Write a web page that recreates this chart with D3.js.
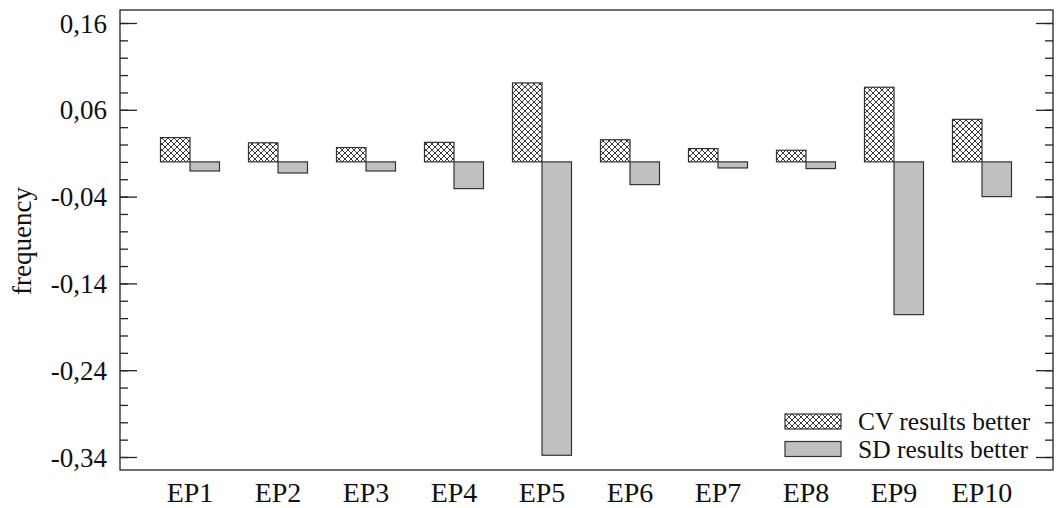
<!DOCTYPE html>
<html>
<head>
<meta charset="utf-8">
<script src="https://cdn.jsdelivr.net/npm/d3@7/dist/d3.min.js"></script>
<style>
  html, body { margin: 0; padding: 0; background: #fff; }
  svg { display: block; }
  svg text { font-family: "Liberation Serif", "Times New Roman", Times, "DejaVu Serif", serif !important; fill: #111; }
</style>
</head>
<body>
<svg id="chart" width="1060" height="508"></svg>
<script>
// Episodes along the x axis
const categories = ["EP1", "EP2", "EP3", "EP4", "EP5", "EP6", "EP7", "EP8", "EP9", "EP10"];
// Frequency where the CV results were better (positive side)
const cvBetter = [0.028, 0.022, 0.0165, 0.0225, 0.091, 0.0255, 0.0153, 0.0134, 0.086, 0.049];
// Frequency where the SD results were better (negative side)
const sdBetter = [-0.0105, -0.0128, -0.0105, -0.0308, -0.338, -0.0262, -0.007, -0.0077, -0.176, -0.040];
// Labelled y ticks
const yTickValues = [0.16, 0.06, -0.04, -0.14, -0.24, -0.34];
const seriesNames = ["CV results better", "SD results better"];

const svg = d3.select("#chart");
const frame = { left: 120, right: 1053, top: 10, bottom: 470 };

const x = d3.scaleBand()
  .domain(categories)
  .range([frame.left + 26, frame.right - 27])
  .padding(0);

const y = d3.scaleLinear()
  .domain([-0.34, 0.16])
  .range([457, 23]);

const barW = 29.5;
const fmt = v => d3.format(".2f")(v).replace(".", ",").replace("−", "-");

// Cross-hatch pattern for the CV series
const defs = svg.append("defs");
const pat = defs.append("pattern")
  .attr("id", "xhatch")
  .attr("patternUnits", "userSpaceOnUse")
  .attr("width", 6).attr("height", 6);
pat.append("rect").attr("width", 6).attr("height", 6).attr("fill", "#fff");
pat.append("path")
  .attr("d", "M0,0L6,6M6,0L0,6M-1,5L1,7M5,-1L7,1M-1,1L1,-1M5,7L7,5")
  .attr("stroke", "#222").attr("stroke-width", 0.9).attr("fill", "none");

const fills = ["url(#xhatch)", "#c0c0c0"];

// Bars
const g = svg.append("g");
categories.forEach((c, i) => {
  const cx = x(c) + x.bandwidth() / 2;
  const v1 = cvBetter[i], v2 = sdBetter[i];
  g.append("rect")
    .attr("x", cx - barW).attr("width", barW)
    .attr("y", y(Math.max(0, v1))).attr("height", Math.abs(y(v1) - y(0)))
    .attr("fill", fills[0]).attr("stroke", "#333").attr("stroke-width", 1.2);
  g.append("rect")
    .attr("x", cx).attr("width", barW)
    .attr("y", y(Math.max(0, v2))).attr("height", Math.abs(y(v2) - y(0)))
    .attr("fill", fills[1]).attr("stroke", "#333").attr("stroke-width", 1.2);
});

// Frame
svg.append("rect")
  .attr("x", frame.left).attr("y", frame.top)
  .attr("width", frame.right - frame.left).attr("height", frame.bottom - frame.top)
  .attr("fill", "none").attr("stroke", "#222").attr("stroke-width", 1.3);

// Minor and major ticks on both vertical sides
const minorTicks = d3.range(0, 26).map(k => +(-0.34 + k * 0.02).toFixed(2));
const leftMinor = d3.axisRight(y).tickValues(minorTicks).tickSize(8).tickFormat("");
const leftMajor = d3.axisRight(y).tickValues(yTickValues).tickSize(17).tickFormat("");
const rightMinor = d3.axisLeft(y).tickValues(minorTicks).tickSize(8).tickFormat("");
const rightMajor = d3.axisLeft(y).tickValues(yTickValues).tickSize(17).tickFormat("");
[[leftMinor, frame.left], [leftMajor, frame.left], [rightMinor, frame.right], [rightMajor, frame.right]]
  .forEach(([ax, px]) => {
    const a = svg.append("g").attr("transform", `translate(${px},0)`).call(ax);
    a.select(".domain").remove();
    a.selectAll("line").attr("stroke", "#222").attr("stroke-width", 1.3);
  });

// Y tick labels
const yLab = d3.axisLeft(y).tickValues(yTickValues).tickSize(0).tickPadding(0).tickFormat(fmt);
const ya = svg.append("g").attr("transform", `translate(${frame.left - 13},0)`).call(yLab);
ya.select(".domain").remove();
ya.attr("font-family", null);
ya.selectAll("text")
  .attr("font-size", 27).attr("fill", "#111").attr("dy", "0.34em");

// X tick labels
const xLab = d3.axisBottom(x).tickSize(0).tickPadding(0);
const xa = svg.append("g").attr("transform", `translate(0,${frame.bottom})`).call(xLab);
xa.select(".domain").remove();
xa.attr("font-family", null);
xa.selectAll("text")
  .attr("font-size", 28).attr("fill", "#111").attr("dy", null).attr("y", 32);

// Y axis title
svg.append("text")
  .attr("transform", "translate(31,241) rotate(-90)")
  .attr("text-anchor", "middle")
  .attr("font-size", 27)
  .text("frequency");

// Legend
const legend = svg.append("g");
seriesNames.forEach((name, i) => {
  const ly = 414 + i * 27.5;
  legend.append("rect")
    .attr("x", 785).attr("y", ly).attr("width", 56).attr("height", 15)
    .attr("fill", fills[i]).attr("stroke", "#333").attr("stroke-width", 1.2);
  legend.append("text")
    .attr("x", 858).attr("y", ly + 16)
    .attr("font-size", 25.5)
    .text(name);
});
</script>
</body>
</html>
